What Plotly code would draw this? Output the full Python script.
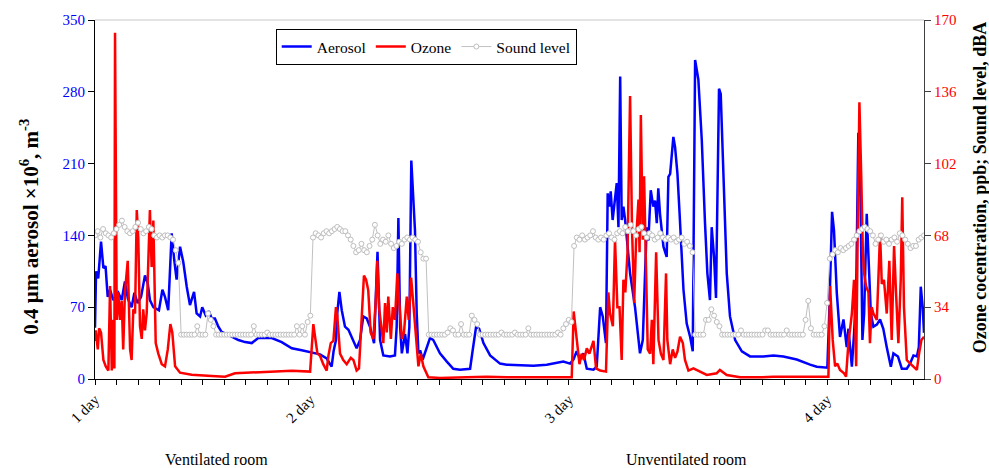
import numpy as np
import plotly.graph_objects as go

# time axis in hourly tick units (0 = start of "1 day")
day_ticks = [0, 10, 22, 34]
day_labels = ["1 day", "2 day", "3 day", "4 day"]

aerosol_t = [0.0, 0.05, 0.15, 0.28, 0.39, 0.49, 0.59, 0.70, 0.85, 1.08, 1.24, 1.39, 1.53, 1.70, 1.83, 1.98,
             2.14, 2.32, 2.45, 2.55, 2.71, 2.97, 3.13, 3.25, 3.40, 3.56, 3.68, 3.79, 3.95, 4.10, 4.26, 4.41,
             4.60, 4.72, 4.88, 4.98, 5.14, 5.29, 5.42, 5.57, 5.73, 5.88, 6.19, 6.66, 6.97, 7.28, 7.58, 8.21,
             8.67, 9.14, 9.60, 10.06, 10.45, 10.76, 10.99, 11.08, 11.19, 11.25, 11.35, 11.46, 11.61, 11.77,
             12.00, 12.15, 12.31, 12.46, 12.62, 12.77, 12.96, 13.12, 13.24, 13.39, 13.70, 13.93, 14.01, 14.09,
             14.17, 14.25, 14.40, 14.51, 14.60, 14.69, 14.86, 14.94, 15.02, 15.10, 15.22, 15.41, 15.56, 15.71,
             16.02, 16.34, 16.64, 16.95, 17.42, 17.54, 17.70, 17.84, 18.04, 18.35, 18.81, 19.12, 20.36, 20.98,
             21.75, 22.06, 22.22, 22.37, 22.53, 22.68, 22.84, 23.15, 23.30, 23.46, 23.58, 23.73, 23.81, 23.89,
             23.95, 24.04, 24.15, 24.23, 24.31, 24.39, 24.46, 24.54, 24.62, 24.70, 24.85, 25.08, 25.31, 25.44,
             25.55, 25.62, 25.70, 25.81, 25.93, 26.01, 26.09, 26.16, 26.24, 26.40, 26.55, 26.63, 26.71, 26.79,
             26.86, 26.94, 27.05, 27.14, 27.33, 27.48, 27.64, 27.76, 27.87, 28.02, 28.18, 28.33, 28.44, 28.56,
             28.64, 28.75, 28.84, 28.90, 28.98, 29.06, 29.18, 29.34, 29.49, 29.73, 30.04, 30.42, 31.04, 31.51,
             31.97, 32.59, 33.21, 33.52, 34.01, 34.10, 34.23, 34.32, 34.45, 34.60, 34.76, 34.91, 34.99, 35.15,
             35.25, 35.35, 35.45, 35.55, 35.64, 35.72, 35.84, 35.93, 36.03, 36.15, 36.31, 36.46, 36.61, 36.77,
             36.96, 37.08, 37.29, 37.47, 37.70, 37.85, 38.01, 38.17, 38.26, 38.35, 38.44, 38.50]
aerosol_v = [50, 105, 98, 134, 108, 110, 80, 87, 77, 84, 77, 95, 78, 70, 84, 74,
             80, 101, 93, 77, 70, 67, 87, 80, 67, 142, 116, 97, 129, 114, 90, 72,
             85, 64, 61, 70, 62, 66, 59, 59, 51, 46, 43, 38, 36, 35, 40, 40,
             36, 30, 28, 26, 24, 20, 12, 27, 38, 64, 85, 67, 51, 48,
             38, 30, 38, 61, 59, 51, 35, 124, 38, 23, 22, 23, 51, 157,
             51, 25, 44, 25, 51, 213, 145, 64, 25, 28, 19, 31, 40, 38,
             25, 17, 10, 9, 10, 28, 51, 49, 35, 23, 15, 14, 13, 14,
             17, 15, 19, 27, 19, 25, 10, 9, 12, 70, 61, 35, 181, 168,
             183, 155, 178, 191, 148, 295, 155, 168, 155, 135, 103, 70, 25, 38,
             106, 148, 135, 184, 168, 174, 152, 186, 161, 129, 119, 197, 200, 223,
             236, 226, 200, 165, 87, 54, 41, 27, 311, 292, 233, 152, 103, 77,
             148, 119, 79, 168, 283, 278, 200, 103, 61, 38, 27, 22, 22, 23,
             22, 19, 14, 12, 11, 64, 163, 145, 84, 41, 58, 31, 49, 12,
             44, 84, 240, 178, 38, 64, 161, 113, 64, 51, 53, 58, 49, 31,
             12, 25, 22, 10, 10, 15, 23, 22, 31, 90, 70, 45]

ozone_t = [0.0, 0.03, 0.13, 0.19, 0.28, 0.39, 0.50, 0.62, 0.70, 0.78, 0.85, 0.90, 0.93, 1.01, 1.08, 1.16,
           1.24, 1.31, 1.39, 1.52, 1.63, 1.70, 1.78, 1.86, 1.94, 2.01, 2.09, 2.17, 2.24, 2.32, 2.40, 2.48,
           2.55, 2.63, 2.71, 2.82, 2.94, 3.10, 3.25, 3.38, 3.50, 3.59, 3.72, 3.95, 4.49, 5.42, 6.04, 6.50,
           7.28, 8.21, 9.14, 9.99, 10.14, 10.22, 10.33, 10.45, 10.60, 10.76, 10.84, 10.95, 11.07, 11.19,
           11.25, 11.38, 11.53, 11.69, 11.88, 12.00, 12.15, 12.26, 12.39, 12.49, 12.59, 12.69, 12.80, 12.93,
           13.05, 13.11, 13.20, 13.32, 13.39, 13.47, 13.55, 13.62, 13.74, 13.83, 13.93, 14.04, 14.13, 14.25,
           14.35, 14.48, 14.57, 14.68, 14.78, 14.91, 15.02, 15.13, 15.25, 15.48, 16.02, 17.26, 18.19, 19.12,
           20.36, 22.14, 22.23, 22.37, 22.50, 22.60, 22.71, 22.84, 22.96, 23.15, 23.27, 23.46, 23.73, 23.84,
           23.92, 24.05, 24.15, 24.26, 24.36, 24.46, 24.54, 24.63, 24.73, 24.85, 24.94, 25.04, 25.13, 25.24,
           25.29, 25.35, 25.44, 25.50, 25.59, 25.67, 25.78, 25.86, 25.93, 26.06, 26.17, 26.28, 26.40, 26.52,
           26.58, 26.71, 26.83, 26.94, 27.05, 27.17, 27.30, 27.40, 27.56, 27.79, 28.10, 28.41, 28.87, 29.02,
           29.34, 29.96, 30.89, 31.51, 34.06, 34.14, 34.26, 34.37, 34.47, 34.60, 34.79, 34.88, 34.99, 35.15,
           35.25, 35.35, 35.45, 35.50, 35.59, 35.66, 35.72, 35.81, 35.92, 35.99, 36.07, 36.15, 36.31, 36.46,
           36.54, 36.64, 36.77, 36.89, 37.00, 37.11, 37.20, 37.31, 37.42, 37.49, 37.57, 37.70, 37.85, 38.01,
           38.17, 38.27, 38.38, 38.50]
ozone_v = [18, 23, 14, 24, 22, 9, 6, 4, 44, 4, 28, 5, 164, 28, 41, 28,
           37, 14, 41, 56, 14, 9, 33, 31, 80, 67, 25, 19, 33, 23, 31, 60,
           80, 53, 75, 17, 12, 7, 6, 14, 26, 22, 6, 3, 2, 1.4, 1.1, 2.7,
           3, 3.5, 3.9, 3.5, 26, 20, 12, 11, 7, 4, 11, 17, 18, 34,
           30, 12, 9, 7, 10, 9, 4, 5, 30, 49, 47, 42, 22, 19,
           39, 56, 33, 23, 17, 36, 22, 39, 19, 34, 28, 50, 37, 19,
           22, 39, 28, 48, 36, 19, 6, 12, 6, 0.8, 0.5, 0.8, 1.1, 0.8,
           0.8, 0.8, 32, 18.5, 7, 12, 9, 14.5, 12, 18, 5, 4, 3.5, 41,
           31, 25, 66, 34, 34, 9, 47, 41, 60, 134, 71, 36, 66, 85,
           60, 125, 66, 96, 50, 14, 12, 28, 7, 60, 18.5, 12, 9, 50,
           18.5, 7, 14, 10, 13, 20, 17, 9, 4, 5, 3.5, 1.9, 2.7, 4.3,
           1.9, 0.8, 0.8, 1.1, 1.1, 44, 18.5, 6, 7.4, 4.3, 2.7, 1.1, 17, 31,
           47, 6, 94, 131, 94, 60, 50, 44, 41, 17, 34, 31, 28, 69,
           45, 47, 31, 56, 18.5, 63, 41, 17, 47, 86, 34, 9, 7.4, 6,
           4.3, 12, 18.5, 20]

sound_step = 0.125
sound_v = [68, 70, 67, 71, 69, 68, 67, 69, 71, 73, 75, 72, 70, 69, 70, 72, 74, 71, 69, 70, 72, 71, 68, 67,
           68, 67, 68, 68, 67, 66, 61, 55,
           21, 21, 21, 21, 21, 21, 25, 21, 21, 21, 31, 28, 25, 21, 21, 21, 21, 21, 21, 21,
           21, 21, 21, 21, 21, 21, 21, 25, 21, 21, 21, 21, 22, 21, 21, 21, 21, 21, 21, 21,
           21, 21, 21, 25, 21, 25, 21, 27, 30,
           67, 69, 68, 67, 69, 70, 69, 70, 71, 72, 71, 70, 70, 68, 66, 63, 60, 61, 64, 61, 60, 63,
           66, 73, 68, 64, 66, 65, 68, 64, 62, 63, 65, 64, 66, 67, 66, 67, 66, 65, 60, 57, 57,
           21, 21, 21, 21, 21, 21, 21, 22, 24, 23, 21, 21, 26, 21, 21, 21, 30, 28, 26, 21,
           21, 21, 21, 21, 21, 21, 21, 22, 21, 21, 21, 21, 22, 21, 21, 21, 21, 24, 21, 21,
           21, 21, 21, 21, 21, 21, 21, 21, 22, 21, 24, 26, 28, 27,
           63, 67, 66, 68, 66, 67, 68, 70, 67, 66, 67, 66, 68, 69, 67, 66, 69, 70, 69, 72,
           70, 73, 70, 68, 71, 72, 69, 67, 69, 68, 66, 67, 69, 67, 66, 67, 66, 67, 65, 66,
           67, 64, 65, 63, 60,
           21, 21, 21, 21, 28, 28, 33, 30, 27, 25, 21, 21, 21, 21, 21, 21, 21, 23, 21, 21,
           21, 21, 21, 21, 21, 21, 23, 23, 21, 21, 21, 21, 21, 21, 23, 21, 21, 21, 21, 21,
           21, 28, 37, 24, 21, 21, 21, 21, 25, 36,
           57, 59, 61, 60, 62, 61, 62, 63, 64, 66, 68, 70, 71, 72, 71, 70, 68, 64, 66, 68,
           65, 66, 64, 66, 67, 65, 69, 68, 66, 64, 62, 63, 63, 66, 67, 68]
sound_t = np.arange(len(sound_v)) * sound_step

SERIF = "Liberation Serif"

fig = go.Figure()
fig.add_trace(go.Scatter(x=aerosol_t, y=aerosol_v, name="Aerosol", mode="lines",
                         line=dict(color="#0000FF", width=2.5), yaxis="y", legendrank=1))
fig.add_trace(go.Scatter(x=ozone_t, y=ozone_v, name="Ozone", mode="lines",
                         line=dict(color="#FF0000", width=2.5), yaxis="y2", legendrank=2))
fig.add_trace(go.Scatter(x=sound_t, y=sound_v, name="Sound level", mode="lines+markers",
                         line=dict(color="#C0C0C0", width=1),
                         marker=dict(symbol="circle", size=5, color="white",
                                     line=dict(color="#BEBEBE", width=1)),
                         yaxis="y2", legendrank=3))

fig.update_layout(
    width=989, height=468,
    margin=dict(l=95, r=65, t=20, b=89),
    plot_bgcolor="white", paper_bgcolor="white",
    font=dict(family=SERIF, color="black"),
    showlegend=True,
    legend=dict(orientation="h", x=0.218, y=0.975, xanchor="left", yanchor="top",
                bgcolor="white", bordercolor="black", borderwidth=1,
                font=dict(family=SERIF, size=15.5, color="black"),
                tracegroupgap=0, itemwidth=30),
    xaxis=dict(range=[0, 38.5], tickvals=day_ticks, ticktext=day_labels, tickangle=-45,
               ticks="outside", ticklen=5, tickcolor="black", showline=True, linecolor="black",
               linewidth=1, showgrid=False, zeroline=False,
               tickfont=dict(family=SERIF, size=15, color="black"),
               minor=dict(dtick=1, tick0=0, ticks="outside", ticklen=5, tickcolor="black",
                          showgrid=False)),
    yaxis=dict(range=[0, 350], dtick=70, tick0=0, ticks="outside", ticklen=6, tickcolor="black",
               showline=True, linecolor="black", linewidth=1, showgrid=False, zeroline=False,
               tickfont=dict(family=SERIF, size=15, color="#0000FF")),
    yaxis2=dict(range=[0, 170], dtick=34, tick0=0, overlaying="y", side="right",
                ticks="outside", ticklen=6, tickcolor="#404040",
                showline=True, linecolor="#404040", linewidth=1, showgrid=False, zeroline=False,
                tickfont=dict(family=SERIF, size=15, color="#FF0000")),
    shapes=[dict(type="line", xref="paper", yref="paper", x0=0, x1=1, y0=1, y1=1,
                 line=dict(color="#C8C8C8", width=1))],
    annotations=[
        dict(text="<b>0.4 µm aerosol ×10<sup>6</sup>, m<sup>-3</sup></b>", xref="paper", yref="paper",
             x=-0.079, y=0.423, xanchor="center", yanchor="middle", textangle=-90, showarrow=False,
             font=dict(family=SERIF, size=21, color="black")),
        dict(text="<b>Ozone cocentration, ppb; Sound level, dBA</b>", xref="paper", yref="paper",
             x=1.068, y=0.535, xanchor="center", yanchor="middle", textangle=-90, showarrow=False,
             font=dict(family=SERIF, size=18, color="black")),
        dict(text="Ventilated room", xref="paper", yref="paper", x=0.147, y=-0.224,
             xanchor="center", yanchor="middle", showarrow=False,
             font=dict(family=SERIF, size=16, color="black")),
        dict(text="Unventilated room", xref="paper", yref="paper", x=0.714, y=-0.224,
             xanchor="center", yanchor="middle", showarrow=False,
             font=dict(family=SERIF, size=16, color="black")),
    ],
)

fig.write_html("out.html", config={"displayModeBar": False},
               post_script="document.body.style.margin='0';")
